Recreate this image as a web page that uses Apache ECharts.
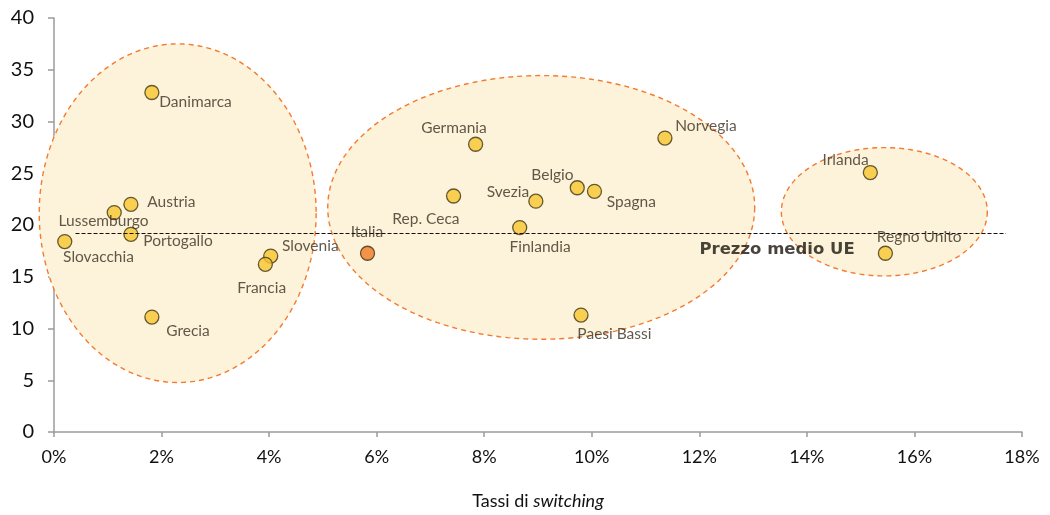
<!DOCTYPE html>
<html>
<head>
<meta charset="utf-8">
<script src="https://cdn.jsdelivr.net/npm/echarts@6/dist/echarts.min.js"></script>
<style>
  html, body { margin: 0; padding: 0; background: #ffffff; }
  #chart { width: 1050px; height: 515px; }
</style>
</head>
<body>
<div id="chart"></div>
<script>
// ---- Data ----
const countries   = ['Danimarca','Austria','Lussemburgo','Portogallo','Slovacchia','Slovenia','Francia','Grecia',
                     'Germania','Norvegia','Belgio','Spagna','Svezia','Rep. Ceca','Finlandia','Italia','Paesi Bassi',
                     'Irlanda','Regno Unito'];
const switchRates = [1.82, 1.43, 1.12, 1.43, 0.20, 4.03, 3.93, 1.82,
                     7.84, 11.36, 9.73, 10.05, 8.96, 7.43, 8.66, 5.83, 9.80,
                     15.18, 15.46];
const prices      = [32.8, 22.0, 21.2, 19.1, 18.4, 17.0, 16.2, 11.1,
                     27.8, 28.4, 23.6, 23.25, 22.3, 22.8, 19.75, 17.27, 11.3,
                     25.07, 17.27];
const highlighted = ['Italia'];

// EU average price line
const euAvgPrice  = 19.2;
const euAvgRange  = [0.4, 17.7];
const euAvgLabel  = 'Prezzo medio UE';

// Cluster ellipses: [centre x (%), centre y, radius x (%), radius y]
const clusterCx = [2.30, 9.06, 15.44];
const clusterCy = [21.14, 21.7, 21.28];
const clusterRx = [2.575, 3.97, 1.915];
const clusterRy = [16.36, 12.74, 6.2];

// Axes
const xTicks = [0, 2, 4, 6, 8, 10, 12, 14, 16, 18];
const yTicks = [0, 5, 10, 15, 20, 25, 30, 35, 40];
const xTitlePlain = 'Tassi di ';
const xTitleItalic = 'switching';

// ---- Label placement (style only): [align, dx, dy] from the point centre ----
const labelPlace = {
  'Danimarca':   ['left', 8, 8],
  'Austria':     ['left', 17, -4],
  'Lussemburgo': ['center', -10, 7],
  'Portogallo':  ['left', 13, 5],
  'Slovacchia':  ['left', -1, 14],
  'Slovenia':    ['left', 12, -11],
  'Francia':     ['center', -3, 22],
  'Grecia':      ['left', 15, 13],
  'Germania':    ['center', -21, -18],
  'Norvegia':    ['left', 11, -13],
  'Belgio':      ['right', -3, -14],
  'Spagna':      ['left', 13, 9],
  'Svezia':      ['right', -6, -11],
  'Rep. Ceca':   ['center', -27, 22],
  'Finlandia':   ['center', 21, 18],
  'Italia':      ['center', 0, -23],
  'Paesi Bassi': ['left', -3, 18],
  'Irlanda':     ['right', -1, -14],
  'Regno Unito': ['left', -8, -18]
};

const FONT = 'Lato, "Open Sans", sans-serif';
const SYM = 14;
const LABEL_NUDGE_Y = 2;

const pointData = countries.map((name, i) => {
  const p = labelPlace[name];
  const isHi = highlighted.includes(name);
  return {
    name: name,
    value: [switchRates[i], prices[i]],
    itemStyle: { color: isHi ? '#F07A26' : '#F8C630' },
    label: { align: p[0], verticalAlign: 'middle', position: [SYM / 2 + p[1], SYM / 2 + p[2] + LABEL_NUDGE_Y] }
  };
});

const ellipseData = clusterCx.map((cx, i) => [cx, clusterCy[i], clusterRx[i], clusterRy[i]]);

const chart = echarts.init(document.getElementById('chart'), null, { renderer: 'canvas' });

chart.setOption({
  animation: false,
  backgroundColor: '#ffffff',
  grid: { left: 54, right: 28, top: 18, bottom: 78, containLabel: false },
  xAxis: {
    type: 'value',
    min: xTicks[0], max: xTicks[xTicks.length - 1], interval: 2,
    name: '{a|' + xTitlePlain + '}{b|' + xTitleItalic + '}',
    nameLocation: 'middle', nameGap: 60,
    nameTextStyle: {
      rich: {
        a: { fontFamily: FONT, fontSize: 18, color: '#111' },
        b: { fontFamily: FONT, fontSize: 18, color: '#111', fontStyle: 'italic' }
      }
    },
    axisLine: { show: true, onZero: false, lineStyle: { color: '#9b9b9b', width: 1.5 } },
    axisTick: { show: true, inside: false, length: 5, lineStyle: { color: '#9b9b9b', width: 1.5 } },
    axisLabel: { formatter: '{value}%', fontFamily: FONT, fontSize: 18, color: '#111', margin: 16 },
    splitLine: { show: false }
  },
  yAxis: {
    type: 'value',
    min: yTicks[0], max: yTicks[yTicks.length - 1], interval: 5,
    axisLine: { show: true, onZero: false, lineStyle: { color: '#9b9b9b', width: 1.5 } },
    axisTick: { show: true, inside: false, length: 6, lineStyle: { color: '#9b9b9b', width: 1.5 } },
    axisLabel: { fontFamily: FONT, fontSize: 20, color: '#111', margin: 20 },
    splitLine: { show: false }
  },
  series: [
    {
      type: 'custom',
      z: 1,
      silent: true,
      clip: false,
      encode: { x: 0, y: 1 },
      data: ellipseData,
      renderItem: function (params, api) {
        const c = api.coord([api.value(0), api.value(1)]);
        const s = api.size([api.value(2), api.value(3)]);
        const pts = [];
        const N = 160;
        for (let k = 0; k < N; k++) {
          const t = (k / N) * Math.PI * 2;
          pts.push([c[0] + s[0] * Math.cos(t), c[1] + s[1] * Math.sin(t)]);
        }
        return {
          type: 'polygon',
          shape: { points: pts },
          style: { fill: '#FDF3DB', stroke: '#F47B2E', lineWidth: 1.4, lineDash: [5, 4] }
        };
      }
    },
    {
      type: 'scatter',
      z: 3,
      symbol: 'circle',
      symbolSize: SYM,
      itemStyle: { borderColor: '#3f3414', borderWidth: 1.3 },
      label: {
        show: true,
        formatter: '{b}',
        fontFamily: FONT,
        fontSize: 15.5,
        color: '#3a3020'
      },
      labelLayout: { hideOverlap: false },
      data: pointData,
      markLine: {
        silent: true,
        symbol: 'none',
        lineStyle: { color: '#111', width: 1, type: [4, 2] },
        label: { show: false },
        data: [[{ coord: [euAvgRange[0], euAvgPrice] }, { coord: [euAvgRange[1], euAvgPrice] }]]
      }
    },
    {
      type: 'scatter',
      z: 2,
      silent: true,
      symbolSize: 2,
      itemStyle: { color: 'rgba(0,0,0,0)', borderWidth: 0 },
      data: [{ name: euAvgLabel, value: [14.89, euAvgPrice] }],
      label: {
        show: true,
        position: [1, 17],
        align: 'right',
        verticalAlign: 'middle',
        formatter: '{b}',
        fontFamily: '"DejaVu Sans", sans-serif',
        fontWeight: 'bold',
        fontSize: 16.5,
        color: '#1a150c'
      }
    }
  ]
});
</script>
</body>
</html>
